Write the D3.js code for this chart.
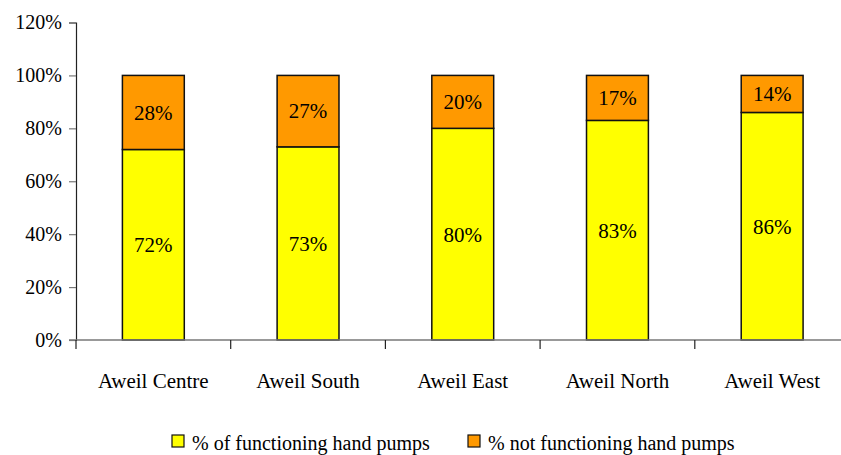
<!DOCTYPE html>
<html>
<head>
<meta charset="utf-8">
<script src="https://cdn.jsdelivr.net/npm/d3@7"></script>
<style>
  html, body { margin: 0; padding: 0; background: #fff; }
  svg { display: block; }
</style>
</head>
<body>
<svg id="chart" width="841" height="455"></svg>
<script>
// Hand pump status by county
const categories = ["Aweil Centre", "Aweil South", "Aweil East", "Aweil North", "Aweil West"];
const functioning = [72, 73, 80, 83, 86];
const notFunctioning = [28, 27, 20, 17, 14];
const seriesNames = ["% of functioning hand pumps", "% not functioning hand pumps"];
const seriesColors = ["#FFFF00", "#FF9900"];
const yTicks = [0, 20, 40, 60, 80, 100, 120];

const FONT = "'Liberation Serif', 'Times New Roman', 'DejaVu Serif', serif";

const svg = d3.select("#chart");
const x0 = 76, y0 = 340, yTop = 22.5;
const band = 154.7;

const x = d3.scaleBand()
  .domain(categories)
  .range([x0, x0 + band * categories.length])
  .paddingInner(0.6).paddingOuter(0.3);

const y = d3.scaleLinear().domain([0, 120]).range([y0, yTop]);

// Stacked data
const rows = categories.map((c, i) => ({ cat: c, f: functioning[i], n: notFunctioning[i] }));
const stack = d3.stack().keys(["f", "n"])(rows);

// Bars
stack.forEach((layer, li) => {
  svg.append("g").selectAll("rect").data(layer).join("rect")
    .attr("x", d => x(d.data.cat))
    .attr("y", d => y(d[1]))
    .attr("width", x.bandwidth())
    .attr("height", d => y(d[0]) - y(d[1]))
    .attr("fill", seriesColors[li])
    .attr("stroke", "#111")
    .attr("stroke-width", 1.5);
});

// Value labels centred in each segment
stack.forEach(layer => {
  svg.append("g").selectAll("text").data(layer).join("text")
    .attr("x", d => x(d.data.cat) + x.bandwidth() / 2)
    .attr("y", d => (y(d[0]) + y(d[1])) / 2)
    .attr("dy", "0.35em")
    .attr("text-anchor", "middle")
    .style("font-family", FONT)
    .style("font-size", "21px")
    .attr("fill", "#000")
    .text(d => (d[1] - d[0]) + "%");
});

// Y axis
const yAxis = d3.axisLeft(y).tickValues(yTicks).tickFormat(d => d + "%").tickSize(7).tickPadding(7);
const gy = svg.append("g").attr("transform", `translate(${x0},0)`).call(yAxis);
gy.select(".domain").attr("stroke", "#222").attr("stroke-width", 1.2);
gy.selectAll(".tick line").attr("stroke", "#777").attr("stroke-width", 1.2);
gy.selectAll(".tick text")
  .style("font-family", FONT).style("font-size", "20px").attr("fill", "#000");

// X axis baseline with band separators below it
const edges = d3.range(categories.length + 1).map(i => x0 + i * band);
svg.append("line")
  .attr("x1", x0 - 7).attr("x2", x0 + band * categories.length)
  .attr("y1", y0).attr("y2", y0)
  .attr("stroke", "#777").attr("stroke-width", 1.5);
svg.append("g").selectAll("line").data(edges).join("line")
  .attr("x1", d => d).attr("x2", d => d)
  .attr("y1", y0).attr("y2", y0 + 9)
  .attr("stroke", "#222").attr("stroke-width", 1.2);

// Category labels
svg.append("g").selectAll("text").data(categories).join("text")
  .attr("x", d => x(d) + x.bandwidth() / 2)
  .attr("y", 388)
  .attr("text-anchor", "middle")
  .style("font-family", FONT)
  .style("font-size", "21px")
  .attr("fill", "#000")
  .text(d => d);

// Legend
const legendItems = [{ x: 172, text: seriesNames[0], color: seriesColors[0] },
                     { x: 468, text: seriesNames[1], color: seriesColors[1] }];
const lg = svg.append("g").selectAll("g").data(legendItems).join("g")
  .attr("transform", d => `translate(${d.x},435)`);
lg.append("rect").attr("width", 12).attr("height", 12)
  .attr("fill", d => d.color).attr("stroke", "#111").attr("stroke-width", 1.2);
lg.append("text").attr("x", 20).attr("y", 15)
  .style("font-family", FONT).style("font-size", "20px")
  .attr("fill", "#000").text(d => d.text);
</script>
</body>
</html>
